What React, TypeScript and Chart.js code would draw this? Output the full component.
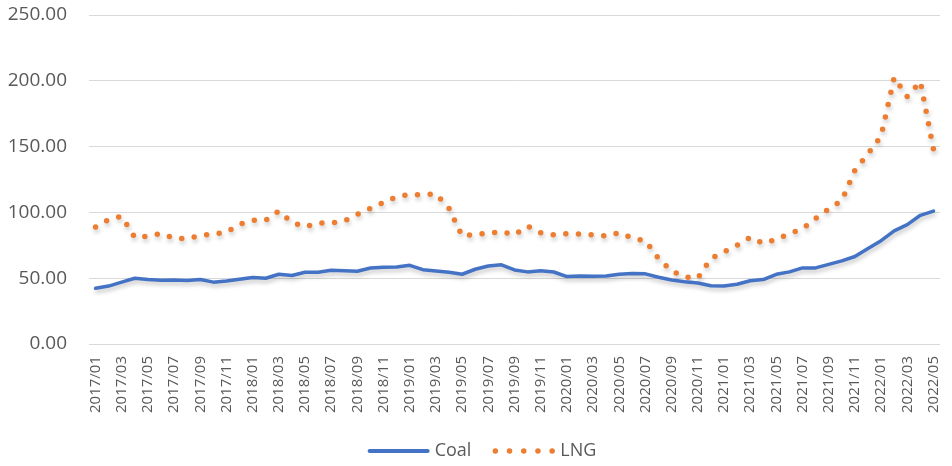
import React, { useEffect, useRef } from "react";
import { Chart, registerables } from "chart.js";

Chart.register(...registerables);

const months: string[] = [];
for (let y = 2017; y <= 2022; y++) {
  for (let m = 1; m <= 12; m++) {
    if (y === 2022 && m > 5) break;
    months.push(`${y}/${String(m).padStart(2, "0")}`);
  }
}

const coal2017 = [42.3, 44, 47, 50, 49, 48.5, 48.6, 48.3, 49, 47, 47.8, 49.2];
const coal2018 = [50.5, 50, 53, 52, 54.5, 54.5, 56, 55.7, 55.3, 57.8, 58.3, 58.5];
const coal2019 = [59.8, 56.5, 55.5, 54.5, 53, 56.8, 59.3, 60.2, 56.3, 54.8, 55.7, 54.7];
const coal2020 = [51.2, 51.7, 51.5, 51.7, 53, 53.5, 53.3, 50.7, 48.6, 47.3, 46.3, 44.3];
const coal2021 = [44.1, 45.4, 48.1, 49, 53, 54.8, 57.8, 57.8, 60.5, 63.2, 66.5, 72.5];
const coal2022 = [78.5, 86, 90.7, 97.8, 101];

const lng2017 = [89, 94.5, 97, 81, 82, 84, 80.5, 80, 82.5, 83.5, 85, 91];
const lng2018 = [94, 94, 101, 92.5, 89, 91.8, 92, 93.5, 98.5, 103, 107.5, 112];
const lng2019 = [113.5, 113.5, 114, 103, 82, 83.5, 84, 85.5, 83, 89.5, 84.5, 83];
const lng2020 = [83.8, 83.5, 83, 82, 84.5, 80.5, 78.5, 65, 55.5, 51, 50, 65];
const lng2021 = [70, 75, 81, 76.5, 79.5, 84, 87.5, 95.5, 102.5, 109, 132, 144.5];
const lng2022 = [158, 202.5, 188, 199.5, 148];

const coal = [...coal2017, ...coal2018, ...coal2019, ...coal2020, ...coal2021, ...coal2022];
const lng = [...lng2017, ...lng2018, ...lng2019, ...lng2020, ...lng2021, ...lng2022];

const FONT = "'Open Sans', 'Noto Sans', sans-serif";

const shadowPlugin = {
  id: "shadow",
  beforeDatasetsDraw(chart: any) {
    const ctx = chart.ctx;
    ctx.save();
    ctx.shadowColor = "rgba(0,0,0,0.22)";
    ctx.shadowBlur = 4;
    ctx.shadowOffsetX = 1;
    ctx.shadowOffsetY = 3;
  },
  afterDatasetsDraw(chart: any) {
    chart.ctx.restore();
  },
};

// Legend drawn under the axis labels, centred like the reference.
const legendPlugin = {
  id: "bottomLegend",
  afterDraw(chart: any) {
    const ctx = chart.ctx;
    const ds = chart.data.datasets;
    const y = 451;
    const sample = 60;
    const gapText = 6;
    const gapItem = 23;
    ctx.save();
    ctx.font = `18px ${FONT}`;
    ctx.textBaseline = "middle";
    ctx.textAlign = "left";
    const widths = ds.map((d: any) => ctx.measureText(d.label).width);
    const total = ds.reduce((acc: number, _d: any, i: number) => acc + sample + gapText + widths[i], 0) + gapItem * (ds.length - 1);
    let x = 482.5 - total / 2;
    ds.forEach((d: any, i: number) => {
      ctx.beginPath();
      ctx.strokeStyle = d.borderColor;
      ctx.lineCap = "round";
      if (d.borderDash) {
        ctx.lineWidth = 5.5;
        ctx.setLineDash([0, 14.2]);
      } else {
        ctx.lineWidth = 4;
        ctx.setLineDash([]);
      }
      ctx.moveTo(x + 1, y);
      ctx.lineTo(x + sample - 1, y);
      ctx.stroke();
      ctx.setLineDash([]);
      x += sample + gapText;
      ctx.fillStyle = "#595959";
      ctx.fillText(d.label, x, y);
      x += widths[i] + gapItem;
    });
    ctx.restore();
  },
};

export default function App() {
  const ref = useRef<HTMLCanvasElement | null>(null);
  useEffect(() => {
    if (!ref.current) return;
    const chart = new Chart(ref.current, {
      type: "line",
      data: {
        labels: months,
        datasets: [
          {
            label: "Coal",
            data: coal,
            borderColor: "#4472C4",
            backgroundColor: "#4472C4",
            borderWidth: 3.5,
            pointRadius: 0,
            tension: 0,
            borderCapStyle: "round",
            borderJoinStyle: "round",
          },
          {
            label: "LNG",
            data: lng,
            borderColor: "#ED7D31",
            backgroundColor: "#ED7D31",
            borderWidth: 5.5,
            pointRadius: 0,
            tension: 0,
            borderDash: [0, 12.6],
            borderCapStyle: "round",
            borderJoinStyle: "round",
          },
        ],
      },
      options: {
        animation: false,
        responsive: true,
        maintainAspectRatio: false,
        layout: { padding: { left: 7, right: 12, top: 15, bottom: 0 } },
        plugins: {
          legend: { display: false },
          tooltip: { enabled: false },
        },
        scales: {
          x: {
            offset: true,
            grid: { display: false, drawTicks: false },
            border: { display: false },
            afterFit: (s: any) => {
              s.height = 122;
              s.paddingLeft = 0;
              s.paddingRight = 0;
            },
            ticks: {
              autoSkip: false,
              maxRotation: 90,
              minRotation: 90,
              padding: 12,
              color: "#595959",
              font: { family: FONT, size: 15 },
              callback: (_v: any, i: number) => (i % 2 === 0 ? months[i] : null),
            },
          },
          y: {
            min: 0,
            max: 250,
            grid: { color: "#d9d9d9", lineWidth: 1, drawTicks: false },
            border: { display: false },
            afterFit: (s: any) => {
              s.width = 82;
              s.paddingTop = 0;
              s.paddingBottom = 0;
            },
            ticks: {
              stepSize: 50,
              padding: 22,
              color: "#595959",
              font: { family: FONT, size: 19 },
              callback: (v: any) => Number(v).toFixed(2),
            },
          },
        },
      },
      plugins: [shadowPlugin, legendPlugin],
    });
    // Fit the dot spacing so that a dot falls at each end of the LNG line
    // (the last one just inside the path so it is always drawn).
    const pts = chart.getDatasetMeta(1).data as any[];
    let len = 0;
    for (let i = 1; i < pts.length; i++) {
      len += Math.hypot(pts[i].x - pts[i - 1].x, pts[i].y - pts[i - 1].y);
    }
    if (len > 0) {
      const n = Math.round(len / 12.6);
      (chart.data.datasets[1] as any).borderDash = [0, (len - 0.6) / n];
      chart.update();
    }
    return () => chart.destroy();
  }, []);
  return (
    <div style={{ position: "fixed", left: 0, top: 0, width: 952, height: 466, background: "#fff" }}>
      <canvas ref={ref} />
    </div>
  );
}
